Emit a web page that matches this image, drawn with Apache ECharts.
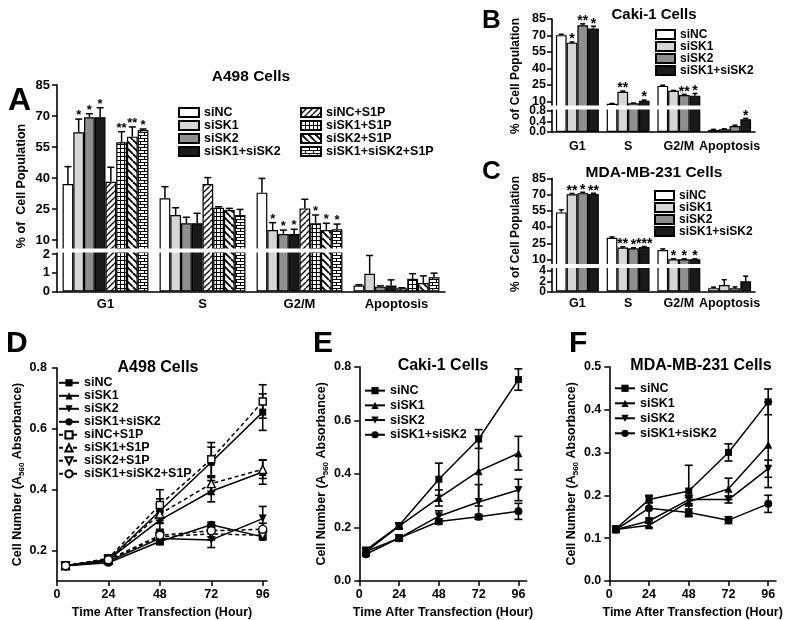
<!DOCTYPE html>
<html>
<head>
<meta charset="utf-8">
<script src="https://cdn.jsdelivr.net/npm/echarts@6/dist/echarts.min.js"></script>
<style>
html,body{margin:0;padding:0;background:#fff;}
.p{position:absolute;left:0;top:0;width:795px;height:620px;}
</style>
</head>
<body>
<div id="pA" class="p"></div>
<div id="pB" class="p"></div>
<div id="pC" class="p"></div>
<div id="pD" class="p"></div>
<div id="pE" class="p"></div>
<div id="pF" class="p"></div>
<script>
// ---------------- DATA ----------------
const phases = ['G1', 'S', 'G2/M', 'Apoptosis'];
const times = [4, 24, 48, 72, 96];

// Panel A: A498 cells (% of cell population), mean / SD / significance per phase
const A_names = ['siNC', 'siSK1', 'siSK2', 'siSK1+siSK2', 'siNC+S1P', 'siSK1+S1P', 'siSK2+S1P', 'siSK1+siSK2+S1P'];
const A_siNC = [37.1, 30.2, 32.9, 0.32];
const A_siNC_sd = [8.4, 5.6, 6.9, 0.04];
const A_siNC_sig = ['', '', '', ''];
const A_siSK1 = [62.1, 22.1, 14.8, 0.95];
const A_siSK1_sd = [6.4, 3.5, 3.6, 0.97];
const A_siSK1_sig = ['*', '', '*', ''];
const A_siSK2 = [69.4, 18.1, 12.9, 0.26];
const A_siSK2_sd = [1.7, 2.9, 1.9, 0.04];
const A_siSK2_sig = ['*', '', '*', ''];
const A_siSK12 = [69.4, 18.1, 12.9, 0.32];
const A_siSK12_sd = [4.6, 4.8, 2.3, 0.3];
const A_siSK12_sig = ['*', '', '*', ''];
const A_siNC_S1P = [38.2, 37.1, 25.3, 0.17];
const A_siNC_S1P_sd = [7.0, 3.1, 4.4, 0.03];
const A_siNC_S1P_sig = ['', '', '', ''];
const A_siSK1_S1P = [57.3, 25.6, 18.1, 0.68];
const A_siSK1_S1P_sd = [5.1, 0.5, 4.0, 0.27];
const A_siSK1_S1P_sig = ['**', '', '*', ''];
const A_siSK2_S1P = [60.0, 24.5, 14.8, 0.45];
const A_siSK2_S1P_sd = [4.7, 0.8, 3.3, 0.38];
const A_siSK2_S1P_sig = ['**', '', '*', ''];
const A_siSK12_S1P = [63.2, 22.1, 15.2, 0.76];
const A_siSK12_S1P_sd = [0.5, 2.7, 2.5, 0.22];
const A_siSK12_S1P_sig = ['*', '', '*', ''];

// Panel B: Caki-1 cells
const B_names = ['siNC', 'siSK1', 'siSK2', 'siSK1+siSK2'];
const B_siNC = [70.3, 7.9, 24.2, 0.08];
const B_siNC_sd = [0.8, 0.3, 0.6, 0.02];
const B_siNC_sig = ['', '', '', ''];
const B_siSK1 = [63.5, 18.9, 19.8, 0.1];
const B_siSK1_sd = [0.6, 0.6, 0.3, 0.02];
const B_siSK1_sig = ['*', '**', '', ''];
const B_siSK2 = [79.3, 8.3, 15.9, 0.23];
const B_siSK2_sd = [1.3, 0.3, 0.6, 0.03];
const B_siSK2_sig = ['**', '', '**', ''];
const B_siSK12 = [76.3, 10.7, 15.3, 0.49];
const B_siSK12_sd = [2.1, 0.6, 2.0, 0.03];
const B_siSK12_sig = ['*', '*', '*', '*'];

// Panel C: MDA-MB-231 cells
const C_names = ['siNC', 'siSK1', 'siSK2', 'siSK1+siSK2'];
const C_siNC = [53.5, 30.1, 18.8, 0.65];
const C_siNC_sd = [2.5, 0.8, 1.0, 0.2];
const C_siNC_sig = ['', '', '', ''];
const C_siSK1 = [70.2, 21.1, 10.3, 1.25];
const C_siSK1_sd = [0.8, 0.6, 0.3, 1.05];
const C_siSK1_sig = ['**', '**', '*', ''];
const C_siSK2 = [71.3, 20.3, 10.3, 0.65];
const C_siSK2_sd = [0.8, 0.5, 0.3, 0.25];
const C_siSK2_sig = ['*', '*', '*', ''];
const C_siSK12 = [70.6, 21.5, 10.3, 2.0];
const C_siSK12_sd = [0.6, 0.5, 0.3, 1.0];
const C_siSK12_sig = ['**', '***', '*', ''];

// Panel D: A498 growth (A560)
const D_names = ['siNC', 'siSK1', 'siSK2', 'siSK1+siSK2', 'siNC+S1P', 'siSK1+S1P', 'siSK2+S1P', 'siSK1+siSK2+S1P'];
const D_siNC = [0.15, 0.17, 0.33, 0.49, 0.655];
const D_siNC_sd = [0.005, 0.008, 0.04, 0.05, 0.06];
const D_siSK1 = [0.15, 0.17, 0.30, 0.395, 0.458];
const D_siSK1_sd = [0.005, 0.008, 0.03, 0.035, 0.04];
const D_siSK2 = [0.15, 0.165, 0.24, 0.235, 0.305];
const D_siSK2_sd = [0.005, 0.008, 0.02, 0.025, 0.04];
const D_siSK12 = [0.15, 0.16, 0.23, 0.285, 0.245];
const D_siSK12_sd = [0.005, 0.006, 0.01, 0.008, 0.01];
const D_siNC_S1P = [0.15, 0.175, 0.35, 0.50, 0.69];
const D_siNC_S1P_sd = [0.005, 0.008, 0.05, 0.055, 0.055];
const D_siSK1_S1P = [0.15, 0.17, 0.32, 0.42, 0.467];
const D_siSK1_S1P_sd = [0.005, 0.008, 0.03, 0.025, 0.03];
const D_siSK2_S1P = [0.15, 0.17, 0.245, 0.255, 0.25];
const D_siSK2_S1P_sd = [0.005, 0.008, 0.02, 0.02, 0.01];
const D_siSK12_S1P = [0.15, 0.17, 0.25, 0.265, 0.27];
const D_siSK12_S1P_sd = [0.005, 0.008, 0.015, 0.02, 0.02];

// Panel E: Caki-1 growth
const E_names = ['siNC', 'siSK1', 'siSK2', 'siSK1+siSK2'];
const E_siNC = [0.115, 0.207, 0.38, 0.53, 0.752];
const E_siNC_sd = [0.01, 0.01, 0.06, 0.035, 0.04];
const E_siSK1 = [0.11, 0.205, 0.31, 0.41, 0.477];
const E_siSK1_sd = [0.008, 0.01, 0.03, 0.13, 0.063];
const E_siSK2 = [0.11, 0.16, 0.242, 0.295, 0.34];
const E_siSK2_sd = [0.008, 0.01, 0.02, 0.065, 0.04];
const E_siSK12 = [0.1, 0.16, 0.222, 0.24, 0.26];
const E_siSK12_sd = [0.008, 0.01, 0.01, 0.008, 0.03];

// Panel F: MDA-MB-231 growth
const F_names = ['siNC', 'siSK1', 'siSK2', 'siSK1+siSK2'];
const F_siNC = [0.122, 0.19, 0.21, 0.30, 0.418];
const F_siNC_sd = [0.005, 0.008, 0.06, 0.02, 0.03];
const F_siSK1 = [0.12, 0.13, 0.185, 0.215, 0.318];
const F_siSK1_sd = [0.005, 0.005, 0.01, 0.025, 0.1];
const F_siSK2 = [0.12, 0.14, 0.19, 0.19, 0.262];
const F_siSK2_sd = [0.005, 0.005, 0.01, 0.008, 0.02];
const F_siSK12 = [0.12, 0.17, 0.16, 0.142, 0.18];
const F_siSK12_sd = [0.005, 0.03, 0.008, 0.008, 0.02];

// ---------------- STYLE HELPERS ----------------
const FONT = "'Liberation Sans', Arial, Helvetica, sans-serif";

function pattern(kind) {
  const c = document.createElement('canvas');
  let s = 6;
  if (kind === 'grid') s = 4;
  if (kind === 'back') s = 7;
  if (kind === 'brick') s = 8;
  c.width = s; c.height = (kind === 'brick') ? 6 : s;
  const g = c.getContext('2d');
  g.fillStyle = '#fff'; g.fillRect(0, 0, c.width, c.height);
  g.strokeStyle = '#000'; g.fillStyle = '#000';
  if (kind === 'diag') {
    g.lineWidth = 1.3;
    for (const o of [-s, 0, s]) { g.beginPath(); g.moveTo(o, s); g.lineTo(o + s, 0); g.stroke(); }
  } else if (kind === 'back') {
    g.lineWidth = 1.9;
    for (const o of [-s, 0, s]) { g.beginPath(); g.moveTo(o, 0); g.lineTo(o + s, s); g.stroke(); }
  } else if (kind === 'grid') {
    g.fillRect(0, 0, s, 1); g.fillRect(0, 0, 1, s);
  } else if (kind === 'brick') {
    g.fillRect(0, 0, 8, 1); g.fillRect(0, 3, 8, 1);
    g.fillRect(0, 0, 1, 3); g.fillRect(4, 3, 1, 3);
  }
  return { image: c, repeat: 'repeat' };
}

const solidFills = ['#ffffff', '#d6d6d6', '#8f8f8f', '#1a1a1a'];
const A_fills = solidFills.concat([pattern('diag'), pattern('grid'), pattern('back'), pattern('brick')]);

function barErr(idx, n, gapFrac, capW, sig, starSize, starDy, drawIf) {
  return function (params, api) {
    const ci = api.value(0), v = api.value(1), e = api.value(2);
    if (!drawIf(v)) return null;
    const band = api.size([1, 0])[0];
    const gw = band * (1 - gapFrac);
    const bw = gw / n;
    const x = api.coord([ci, v])[0] - gw / 2 + bw * (idx + 0.5);
    const yv = api.coord([ci, v])[1];
    const yt = api.coord([ci, v + e])[1];
    const st = { stroke: '#000', lineWidth: 1.5 };
    const ch = [];
    if (e > 0) {
      ch.push({ type: 'line', shape: { x1: x, y1: yv, x2: x, y2: yt }, style: st });
      ch.push({ type: 'line', shape: { x1: x - capW / 2, y1: yt, x2: x + capW / 2, y2: yt }, style: st });
    }
    const s = sig[params.dataIndex];
    if (s) {
      ch.push({ type: 'text', x: x, y: yt - starDy,
        style: { text: s, font: 'bold ' + starSize + 'px ' + FONT, fill: '#000', align: 'center', verticalAlign: 'middle' } });
    }
    return { type: 'group', children: ch };
  };
}

function axisLbl(size, margin, extra) {
  return Object.assign({ color: '#000', fontFamily: FONT, fontWeight: 'bold', fontSize: size, margin: margin,
    showMinLabel: true, showMaxLabel: true, hideOverlap: false }, extra || {});
}
const AXL = { show: true, lineStyle: { color: '#000', width: 1.6 } };

function barPanel(dom, p) {
  const chart = echarts.init(dom);
  const n = p.names.length;
  const gapFrac = p.gap / 100;
  const grid = [
    { left: p.left, width: p.width, top: p.up.top, height: p.up.bottom - p.up.top },
    { left: p.left, width: p.width, top: p.lo.top, height: p.lo.bottom - p.lo.top }
  ];
  const xAxis = [
    { gridIndex: 0, type: 'category', data: phases, show: false },
    { gridIndex: 1, type: 'category', data: phases, axisLine: AXL, axisTick: { show: false },
      axisLabel: axisLbl(p.catFont, p.catMargin, { interval: 0 }) }
  ];
  const mkY = (gi, s, showLbl) => ({
    gridIndex: gi, type: 'value', min: s.min, max: s.max, axisLine: AXL, splitLine: { show: false },
    axisTick: { show: true, length: p.tickLen, customValues: s.ticks, lineStyle: { color: '#000', width: 1.5 } },
    axisLabel: axisLbl(s.font || p.yFont, p.yMargin, { show: showLbl, customValues: s.ticks })
  });
  const yAxis = [mkY(0, p.up, true), mkY(1, p.lo, false)];
  const series = [];
  [0, 1].forEach(g => {
    for (let i = 0; i < n; i++) {
      series.push({ type: 'bar', name: p.names[i], xAxisIndex: g, yAxisIndex: g, data: p.means[i],
        barGap: '0%', barCategoryGap: p.gap + '%', clip: true,
        itemStyle: { color: p.fills[i], borderColor: '#000', borderWidth: 1.2 }, silent: true });
    }
  });
  [0, 1].forEach(g => {
    const cond = g === 0 ? (v => v >= p.up.min) : (v => v <= p.lo.max);
    for (let i = 0; i < n; i++) {
      series.push({ type: 'custom', xAxisIndex: g, yAxisIndex: g, silent: true, z: 5,
        data: p.means[i].map((v, k) => [k, v, p.sds[i][k]]), encode: { x: 0, y: 1 },
        renderItem: barErr(i, n, gapFrac, p.capW, p.sigs[i], p.starSize, p.starDy, cond) });
    }
  });
  const legend = p.legends.map(L => ({
    data: L.names, orient: 'vertical', left: L.left, top: L.top, padding: 0,
    itemWidth: L.w, itemHeight: L.h, itemGap: 0, icon: 'rect', selectedMode: false,
    textStyle: { color: '#000', fontFamily: FONT, fontWeight: 'bold', fontSize: L.font, lineHeight: L.lh }
  }));
  const graphic = [
    { type: 'rect', z: 100, shape: { x: p.left - 4, y: p.brk[0], width: p.width + 8, height: p.brk[1] - p.brk[0] }, style: { fill: '#fff' } },
    { type: 'text', z: 101, x: p.title.x, y: p.title.y, style: { text: p.title.text, font: 'bold ' + p.title.size + 'px ' + FONT, fill: '#000', align: 'center', verticalAlign: 'middle' } },
    { type: 'text', z: 101, x: p.letter.x, y: p.letter.y, style: { text: p.letter.text, font: 'bold ' + p.letter.size + 'px ' + FONT, fill: '#000', align: 'left', verticalAlign: 'middle' } },
    { type: 'text', z: 101, x: p.ytitle.x, y: p.ytitle.y, rotation: Math.PI / 2, style: { text: p.ytitle.text, font: 'bold ' + p.ytitle.size + 'px ' + FONT, fill: '#000', align: 'center', verticalAlign: 'middle' } }
  ];
  chart.setOption({ animation: false, grid, xAxis, yAxis, series, legend, graphic });
  // lower-segment tick labels, placed through the lower axis scale
  const fmt = p.lo.fmt || (v => String(v));
  const lbls = p.lo.ticks.map(v => ({
    type: 'text', z: 101, x: p.left - p.yMargin, y: chart.convertToPixel({ yAxisIndex: 1 }, v),
    style: { text: fmt(v), font: 'bold ' + (p.lo.font || p.yFont) + 'px ' + FONT, fill: '#000', align: 'right', verticalAlign: 'middle' }
  }));
  chart.setOption({ graphic: graphic.concat(lbls) }, { replaceMerge: ['graphic'] });
}

function lineErr(capW) {
  return function (params, api) {
    const t = api.value(0), v = api.value(1), e = api.value(2);
    const a = api.coord([t, v + e]), b = api.coord([t, v - e]);
    const x = a[0];
    const st = { stroke: '#000', lineWidth: 1.6 };
    return { type: 'group', children: [
      { type: 'line', shape: { x1: x, y1: a[1], x2: x, y2: b[1] }, style: st },
      { type: 'line', shape: { x1: x - capW / 2, y1: a[1], x2: x + capW / 2, y2: a[1] }, style: st },
      { type: 'line', shape: { x1: x - capW / 2, y1: b[1], x2: x + capW / 2, y2: b[1] }, style: st }
    ] };
  };
}

const SYM = [
  { symbol: 'rect', rot: 0 }, { symbol: 'triangle', rot: 0 }, { symbol: 'triangle', rot: 180 }, { symbol: 'circle', rot: 0 }
];

function linePanel(dom, p) {
  const chart = echarts.init(dom);
  const series = [];
  p.names.forEach((nm, i) => {
    const open = i >= 4;
    const sy = SYM[i % 4];
    series.push({ type: 'custom', silent: true, z: 2, data: times.map((t, k) => [t, p.means[i][k], p.sds[i][k]]),
      encode: { x: 0, y: 1 }, renderItem: lineErr(p.capW) });
    series.push({ type: 'line', name: nm, silent: true, z: 3, data: times.map((t, k) => [t, p.means[i][k]]),
      symbol: sy.symbol, symbolRotate: sy.rot, symbolSize: sy.symbol === 'rect' ? 7 : 8,
      lineStyle: { color: '#000', width: 1.5, type: open ? [4, 3] : 'solid' },
      itemStyle: { color: open ? '#fff' : '#000', borderColor: '#000', borderWidth: open ? 1.4 : 0 } });
  });
  chart.setOption({
    animation: false,
    grid: { left: p.left, top: p.top, width: p.width, height: p.height },
    xAxis: { type: 'value', min: 0, max: p.xMax, axisLine: AXL, splitLine: { show: false },
      axisTick: { show: true, length: 5, customValues: [0, 24, 48, 72, 96], lineStyle: { color: '#000', width: 1.5 } },
      axisLabel: axisLbl(12.5, 7, { customValues: [0, 24, 48, 72, 96] }),
      name: 'Time After Transfection (Hour)', nameLocation: 'middle', nameGap: 25,
      nameTextStyle: { color: '#000', fontFamily: FONT, fontWeight: 'bold', fontSize: 12.5 } },
    yAxis: { type: 'value', min: p.yMin, max: p.yMax, axisLine: AXL, splitLine: { show: false },
      axisTick: { show: true, length: 5, customValues: p.yTicks, lineStyle: { color: '#000', width: 1.5 } },
      axisLabel: axisLbl(12.5, p.yMargin, { customValues: p.yTicks, formatter: v => v.toFixed(1) }),
      name: '{a|Cell Number (A}{s|560}{a| Absorbance)}', nameLocation: 'middle', nameGap: p.nameGap, nameRotate: 90,
      nameTextStyle: { rich: {
        a: { color: '#000', fontFamily: FONT, fontWeight: 'bold', fontSize: 12.5, lineHeight: 16 },
        s: { color: '#000', fontFamily: FONT, fontWeight: 'bold', fontSize: 8, lineHeight: 16, verticalAlign: 'bottom' } } } },
    legend: { data: p.names, orient: 'vertical', left: p.legend.left, top: p.legend.top, padding: 0,
      itemWidth: 20, itemHeight: 9, itemGap: 0, selectedMode: false,
      textStyle: { color: '#000', fontFamily: FONT, fontWeight: 'bold', fontSize: 12.5, lineHeight: p.legend.lh } },
    series,
    graphic: [
      { type: 'text', x: p.title.x, y: p.title.y, style: { text: p.title.text, font: 'bold 16px ' + FONT, fill: '#000', align: 'center', verticalAlign: 'middle' } },
      { type: 'text', x: p.letter.x, y: p.letter.y, style: { text: p.letter.text, font: 'bold 30px ' + FONT, fill: '#000', align: 'left', verticalAlign: 'middle' } }
    ]
  });
}

// ---------------- PANELS ----------------
barPanel(document.getElementById('pA'), {
  names: A_names,
  means: [A_siNC, A_siSK1, A_siSK2, A_siSK12, A_siNC_S1P, A_siSK1_S1P, A_siSK2_S1P, A_siSK12_S1P],
  sds: [A_siNC_sd, A_siSK1_sd, A_siSK2_sd, A_siSK12_sd, A_siNC_S1P_sd, A_siSK1_S1P_sd, A_siSK2_S1P_sd, A_siSK12_S1P_sd],
  sigs: [A_siNC_sig, A_siSK1_sig, A_siSK2_sig, A_siSK12_sig, A_siNC_S1P_sig, A_siSK1_S1P_sig, A_siSK2_S1P_sig, A_siSK12_S1P_sig],
  fills: A_fills,
  left: 57, width: 388, gap: 11.5,
  up: { top: 85, bottom: 250, min: 5.16, max: 85, ticks: [10, 25, 40, 55, 70, 85] },
  lo: { top: 251, bottom: 291.5, min: 0, max: 2.16, ticks: [0, 1, 2] },
  brk: [248.5, 252.5],
  tickLen: 5, yFont: 13, yMargin: 7, catFont: 13, catMargin: 6,
  capW: 7, starSize: 13, starDy: 3.5,
  legends: [
    { names: A_names.slice(0, 4), left: 178, top: 106, w: 20, h: 9, font: 12.5, lh: 13 },
    { names: A_names.slice(4), left: 300, top: 106, w: 20, h: 9, font: 12.5, lh: 13 }
  ],
  title: { text: 'A498 Cells', x: 251, y: 77, size: 15.5 },
  letter: { text: 'A', x: 8, y: 101, size: 32 },
  ytitle: { text: '% of  Cell Population', x: 22, y: 186, size: 12.5 }
});

barPanel(document.getElementById('pB'), {
  names: B_names,
  means: [B_siNC, B_siSK1, B_siSK2, B_siSK12],
  sds: [B_siNC_sd, B_siSK1_sd, B_siSK2_sd, B_siSK12_sd],
  sigs: [B_siNC_sig, B_siSK1_sig, B_siSK2_sig, B_siSK12_sig],
  fills: solidFills,
  left: 552, width: 203, gap: 15.5,
  up: { top: 19, bottom: 107, min: 5, max: 85, ticks: [10, 25, 40, 55, 70, 85] },
  lo: { top: 108, bottom: 132, min: 0, max: 0.914, ticks: [0, 0.4, 0.8], fmt: v => v.toFixed(1), font: 12 },
  brk: [105.5, 109.5],
  tickLen: 5, yFont: 12.5, yMargin: 6, catFont: 12.5, catMargin: 8,
  capW: 5, starSize: 14, starDy: 2.5,
  legends: [{ names: B_names, left: 655, top: 28.5, w: 19, h: 9, font: 12, lh: 11.4 }],
  title: { text: 'Caki-1 Cells', x: 654, y: 15, size: 15 },
  letter: { text: 'B', x: 482, y: 21, size: 26 },
  ytitle: { text: '% of Cell Population', x: 516, y: 76, size: 12 }
});

barPanel(document.getElementById('pC'), {
  names: C_names,
  means: [C_siNC, C_siSK1, C_siSK2, C_siSK12],
  sds: [C_siNC_sd, C_siSK1_sd, C_siSK2_sd, C_siSK12_sd],
  sigs: [C_siNC_sig, C_siSK1_sig, C_siSK2_sig, C_siSK12_sig],
  fills: solidFills,
  left: 552, width: 203, gap: 15.5,
  up: { top: 178.3, bottom: 265.5, min: 4.46, max: 85, ticks: [10, 25, 40, 55, 70, 85] },
  lo: { top: 266.5, bottom: 291.5, min: 0, max: 4.88, ticks: [0, 2, 4], font: 12 },
  brk: [264, 268],
  tickLen: 5, yFont: 12.5, yMargin: 6, catFont: 12.5, catMargin: 6,
  capW: 5, starSize: 14, starDy: 2.5,
  legends: [{ names: C_names, left: 654, top: 189.5, w: 19, h: 9, font: 12, lh: 11 }],
  title: { text: 'MDA-MB-231 Cells', x: 654, y: 173, size: 15.5 },
  letter: { text: 'C', x: 482, y: 172, size: 26 },
  ytitle: { text: '% of Cell Population', x: 516, y: 234, size: 12 }
});

linePanel(document.getElementById('pD'), {
  names: D_names,
  means: [D_siNC, D_siSK1, D_siSK2, D_siSK12, D_siNC_S1P, D_siSK1_S1P, D_siSK2_S1P, D_siSK12_S1P],
  sds: [D_siNC_sd, D_siSK1_sd, D_siSK2_sd, D_siSK12_sd, D_siNC_S1P_sd, D_siSK1_S1P_sd, D_siSK2_S1P_sd, D_siSK12_S1P_sd],
  left: 57, top: 368, width: 210, height: 213, xMax: 98,
  yMin: 0.1, yMax: 0.8, yTicks: [0.2, 0.4, 0.6, 0.8], yMargin: 10, nameGap: 30,
  capW: 8,
  legend: { left: 58, top: 376.3, lh: 10.86 },
  title: { text: 'A498 Cells', x: 158, y: 368 },
  letter: { text: 'D', x: 6, y: 344 }
});

linePanel(document.getElementById('pE'), {
  names: E_names,
  means: [E_siNC, E_siSK1, E_siSK2, E_siSK12],
  sds: [E_siNC_sd, E_siSK1_sd, E_siSK2_sd, E_siSK12_sd],
  left: 359.3, top: 366.7, width: 167.4, height: 215, xMax: 101,
  yMin: 0, yMax: 0.8, yTicks: [0, 0.2, 0.4, 0.6, 0.8], yMargin: 8, nameGap: 27,
  capW: 8,
  legend: { left: 364, top: 383.3, lh: 14.7 },
  title: { text: 'Caki-1 Cells', x: 443, y: 366 },
  letter: { text: 'E', x: 313, y: 344 }
});

linePanel(document.getElementById('pF'), {
  names: F_names,
  means: [F_siNC, F_siSK1, F_siSK2, F_siSK12],
  sds: [F_siNC_sd, F_siSK1_sd, F_siSK2_sd, F_siSK12_sd],
  left: 609.3, top: 366.7, width: 166.7, height: 215, xMax: 100.7,
  yMin: 0, yMax: 0.5, yTicks: [0, 0.1, 0.2, 0.3, 0.4, 0.5], yMargin: 8, nameGap: 29,
  capW: 8,
  legend: { left: 614, top: 380.8, lh: 15 },
  title: { text: 'MDA-MB-231 Cells', x: 701, y: 366 },
  letter: { text: 'F', x: 569, y: 344 }
});
</script>
</body>
</html>
